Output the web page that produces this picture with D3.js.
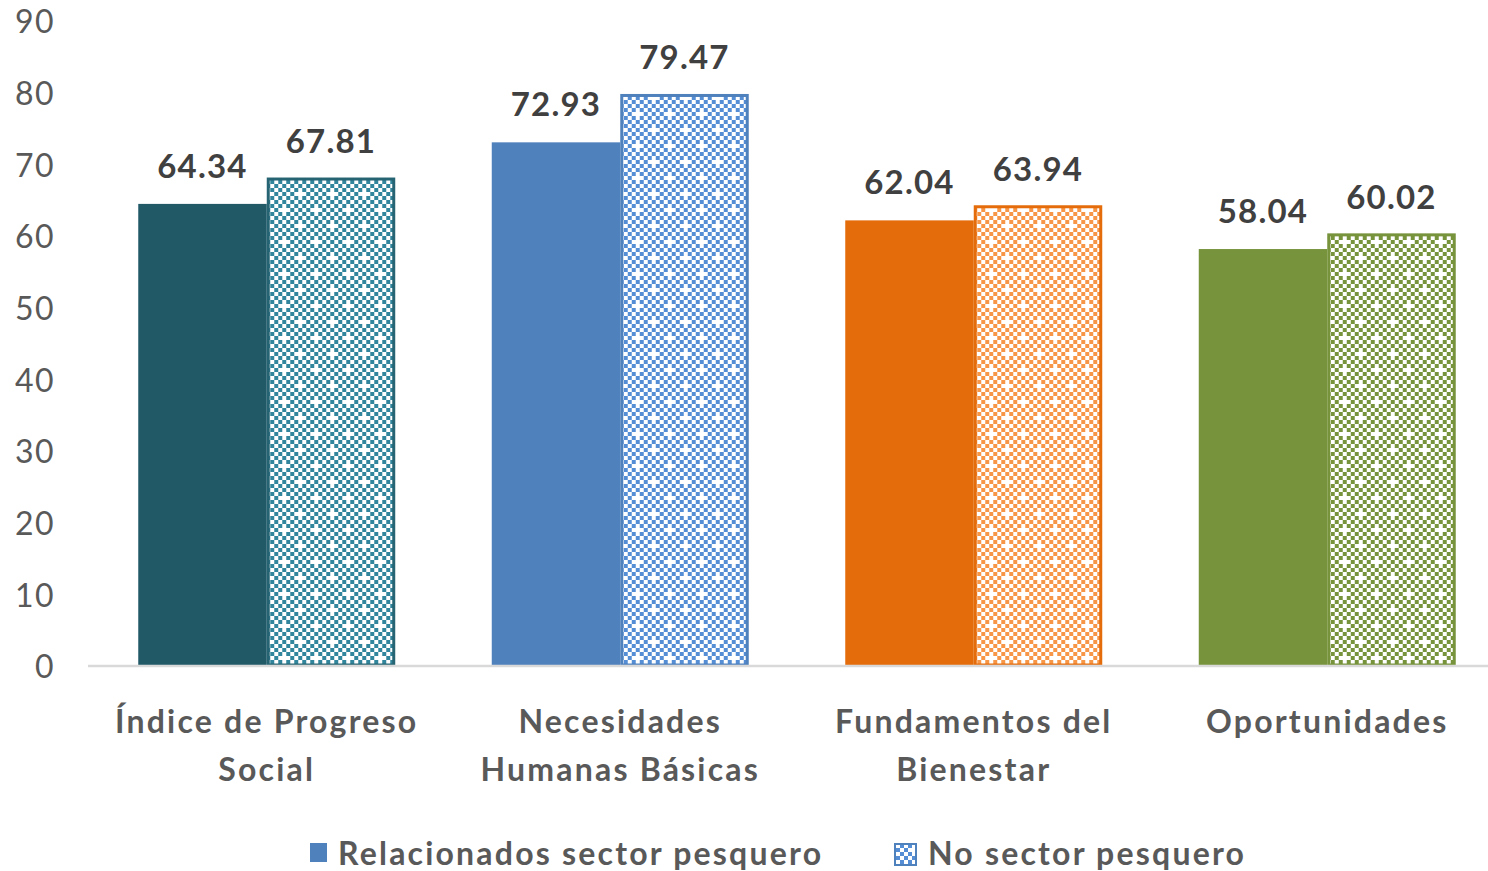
<!DOCTYPE html>
<html><head><meta charset="utf-8">
<script src="https://cdn.jsdelivr.net/npm/d3@7"></script>
<style>body{margin:0;background:#fff}svg{display:block}text{font-family:Lato,"Open Sans",sans-serif}</style>
</head><body>
<svg id="c" width="1488" height="871"></svg>
<script>
const categories = [["Índice de Progreso","Social"],["Necesidades","Humanas Básicas"],["Fundamentos del","Bienestar"],["Oportunidades"]];
const seriesNames = ["Relacionados sector pesquero","No sector pesquero"];
const related = [64.34, 72.93, 62.04, 58.04];
const notSector = [67.81, 79.47, 63.94, 60.02];
const yTicks = [0,10,20,30,40,50,60,70,80,90];
const solidColors = ["#215967","#4f81bd","#e46c0a","#77933c"];
const patColors = ["#31859c","#558ed5","#f79646","#77933c"];
const borderColors = ["#276473","#4f81bd","#e46c0a","#77933c"];

const svg = d3.select("#c");
const defs = svg.append("defs");
function makePattern(id, color){
  const p = defs.append("pattern").attr("id",id).attr("patternUnits","userSpaceOnUse").attr("width",32).attr("height",32);
  p.append("rect").attr("width",32).attr("height",32).attr("fill","#fff");
  for(let i=0;i<8;i++)for(let j=0;j<8;j++){
    if((i+j)%2) continue;
    if((i===0&&j===0)||(i===4&&j===4)) continue;
    p.append("rect").attr("x",i*4).attr("y",j*4).attr("width",4).attr("height",4).attr("fill",color);
  }
}
patColors.forEach((c,i)=>makePattern("pat"+i,c));

const y = d3.scaleLinear().domain([0,90]).range([665,20]);
const x0 = d3.scaleBand().domain(d3.range(categories.length)).range([90,1504]).paddingInner(0.273).paddingOuter(0.1365);
const x1 = d3.scaleBand().domain([0,1]).range([0,x0.bandwidth()]);

// y tick labels
const yAxis = d3.axisLeft(y).tickValues(yTicks).tickSize(0).tickPadding(0);
const ga = svg.append("g").attr("transform","translate(55,0)").call(yAxis);
ga.select(".domain").remove();
ga.selectAll("text").attr("font-size",32).attr("letter-spacing","1.5px").attr("fill","#595959").attr("font-family","Lato, sans-serif").attr("dy","0.4em");

// bars
categories.forEach((c,i)=>{
  const g = svg.append("g").attr("transform",`translate(${x0(i)},0)`);
  g.append("rect").attr("x",x1(0)).attr("y",y(related[i])).attr("width",x1.bandwidth()).attr("height",y(0)-y(related[i])).attr("fill",solidColors[i]);
  g.append("rect").attr("x",x1(1)+1.5).attr("y",y(notSector[i])).attr("width",x1.bandwidth()-3).attr("height",y(0)-y(notSector[i]))
    .attr("fill",`url(#pat${i})`).attr("stroke",borderColors[i]).attr("stroke-width",3);
  [related[i],notSector[i]].forEach((v,k)=>{
    g.append("text").attr("x",x1(k)+x1.bandwidth()/2).attr("y",y(v)-26).attr("text-anchor","middle")
      .attr("font-size",33).attr("letter-spacing","1.2px").attr("font-weight","bold").attr("fill","#404040").text(v.toFixed(2));
  });
  const t = svg.append("text").attr("text-anchor","middle").attr("font-size",32).attr("letter-spacing","2.2px").attr("font-weight","bold").attr("fill","#595959");
  c.forEach((line,li)=>t.append("tspan").attr("x",x0(i)+x0.bandwidth()/2).attr("y",733+li*48).text(line));
});

// axis line
svg.append("line").attr("x1",88).attr("x2",1488).attr("y1",y(0)+1).attr("y2",y(0)+1).attr("stroke","#d9d9d9").attr("stroke-width",2.5);

// legend
const lg = svg.append("g");
lg.append("rect").attr("x",310).attr("y",843).attr("width",17).attr("height",19).attr("fill","#4f81bd");
lg.append("text").attr("x",338).attr("y",865).attr("font-size",32).attr("letter-spacing","2.2px").attr("font-weight","bold").attr("fill","#595959").text(seriesNames[0]);
lg.append("rect").attr("x",895).attr("y",844).attr("width",21).attr("height",21).attr("fill","url(#pat1)").attr("stroke","#4f81bd").attr("stroke-width",2);
lg.append("text").attr("x",928).attr("y",865).attr("font-size",32).attr("letter-spacing","2.2px").attr("font-weight","bold").attr("fill","#595959").text(seriesNames[1]);
</script>
</body></html>
